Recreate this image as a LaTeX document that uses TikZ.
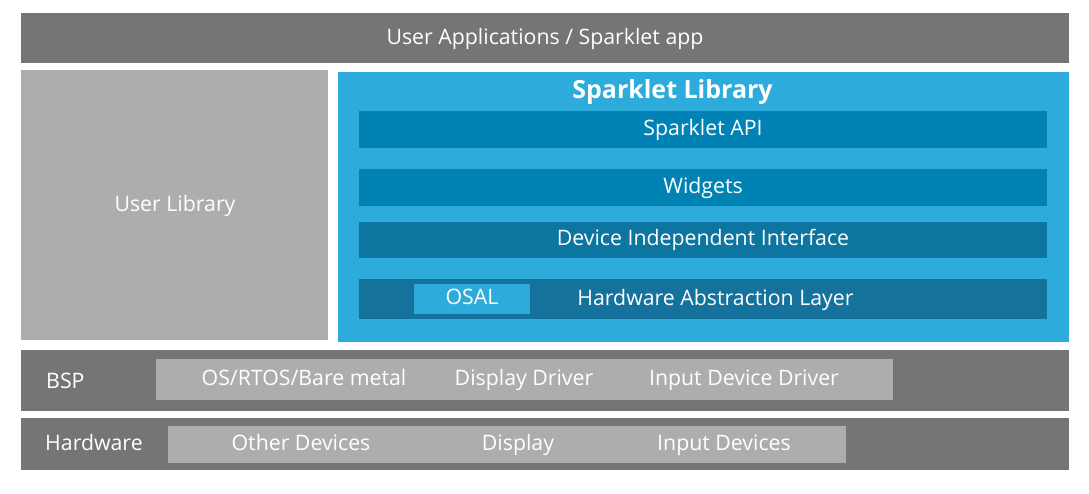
\documentclass[tikz,border=0pt]{standalone}
\usepackage{fontspec}
\setmainfont{Open Sans}
\definecolor{dg}{HTML}{757575}
\definecolor{lg}{HTML}{ADADAD}
\definecolor{lb}{HTML}{2DABDA}
\definecolor{mb}{HTML}{0083B4}
\definecolor{db}{HTML}{0C76A1}
\definecolor{hb}{HTML}{14729D}
\begin{document}
\begin{tikzpicture}[x=1pt,y=-1pt,
  blk/.style={inner sep=0pt, outer sep=0pt, anchor=north west},
  lbl/.style={inner sep=0pt, text=white, font=\fontsize{21.3}{24}\selectfont, text height=15.3pt, text depth=0pt}]
\useasboundingbox[fill=white] (0,0) rectangle (1089,493);
% top
\node[blk, fill=dg, minimum width=1048pt, minimum height=50pt] (app) at (21,13) {};
\node[lbl] (apptxt) at (545,37) {User Applications / Sparklet app};
% user library
\node[blk, fill=lg, minimum width=307pt, minimum height=270pt] (ulib) at (21,70) {};
\node[lbl] (ulibtxt) at (175,204) {User Library};
% sparklet library
\node[blk, fill=lb, minimum width=731pt, minimum height=270pt] (slib) at (338,72) {};
\node[lbl, font=\fontsize{25}{28}\selectfont\bfseries, text height=18pt] (stitle) at (672.5,89) {Sparklet Library};
\node[blk, fill=mb, minimum width=688pt, minimum height=37pt] (api) at (359,111) {};
\node[lbl] (apitxt) at (703,128) {Sparklet API};
\node[blk, fill=mb, minimum width=688pt, minimum height=37pt] (wid) at (359,169) {};
\node[lbl] (widtxt) at (703,186) {Widgets};
\node[blk, fill=db, minimum width=688pt, minimum height=36pt] (dii) at (359,222) {};
\node[lbl] (diitxt) at (703,238) {Device Independent Interface};
\node[blk, fill=hb, minimum width=688pt, minimum height=40pt] (hal) at (359,279) {};
\node[lbl] (haltxt) at (715.5,298) {Hardware Abstraction Layer};
\node[blk, fill=lb, minimum width=116pt, minimum height=30pt] (osal) at (414,284) {};
\node[lbl] (osaltxt) at (472,297) {OSAL};
% BSP
\node[blk, fill=dg, minimum width=1048pt, minimum height=61pt] (bsp) at (21,350) {};
\node[lbl, anchor=west] (bsplbl) at (46,381) {BSP};
\node[blk, fill=lg, minimum width=737pt, minimum height=41pt] (bspin) at (156,359) {};
\node[lbl] (os) at (304,378) {OS/RTOS/Bare metal};
\node[lbl] (dd) at (524,378) {Display Driver};
\node[lbl] (idd) at (744,378) {Input Device Driver};
% Hardware
\node[blk, fill=dg, minimum width=1048pt, minimum height=52pt] (hw) at (21,418) {};
\node[lbl, anchor=west] (hwlbl) at (45,443) {Hardware};
\node[blk, fill=lg, minimum width=678pt, minimum height=37pt] (hwin) at (168,426) {};
\node[lbl] (od) at (301,443) {Other Devices};
\node[lbl] (disp) at (518,443) {Display};
\node[lbl] (idev) at (724,443) {Input Devices};
\end{tikzpicture}
\end{document}
